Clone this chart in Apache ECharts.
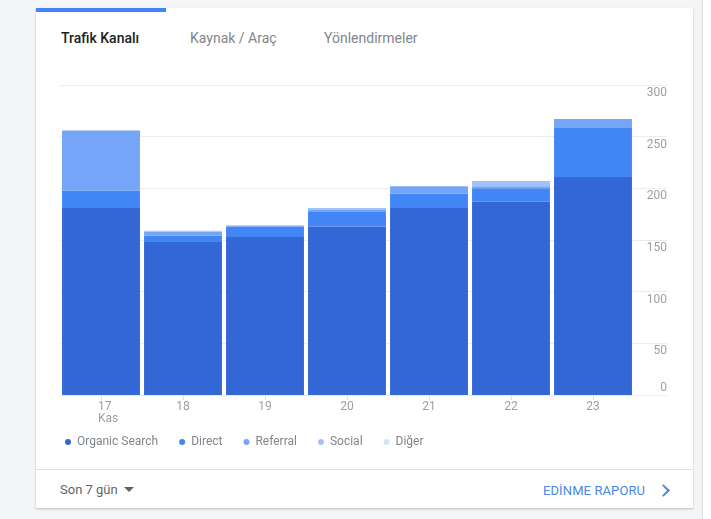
<!DOCTYPE html>
<html>
<head>
<meta charset="utf-8">
<script src="https://cdn.jsdelivr.net/npm/echarts@6/dist/echarts.min.js"></script>
<style>
    html, body { margin: 0; padding: 0; width: 711px; height: 519px; overflow: hidden; background: #f4f5f6; font-family: Roboto, 'Noto Sans', sans-serif; }
    .card { position: absolute; left: 36px; top: 8px; width: 657px; height: 500px; background: #fff; box-shadow: 0 1px 2px rgba(60,64,67,0.3); }
    .card2 { position: absolute; left: 703px; top: 0; width: 40px; height: 519px; background: #fff; box-shadow: 0 0 2px rgba(60,64,67,0.3); }
    .tab-bar { position: absolute; left: 0; top: 0; width: 130px; height: 4px; background: #4285f4; }
    .tab { position: absolute; top: 21px; font-size: 14px; line-height: 18px; color: #80868b; white-space: nowrap; }
    .tab.active { color: #202124; font-weight: 500; }
    .divider { position: absolute; left: 0; top: 461px; width: 657px; height: 1px; background: #e0e0e0; }
    .period { position: absolute; left: 24px; top: 473px; font-size: 13px; line-height: 18px; color: #5f6368; }
    .period .caret { display: inline-block; width: 0; height: 0; border-left: 5px solid transparent; border-right: 5px solid transparent; border-top: 5px solid #5f6368; margin-left: 6px; vertical-align: 2px; }
    .report { position: absolute; left: 507px; top: 474px; font-size: 13px; line-height: 18px; color: #4a86e8; letter-spacing: 0.1px; }
    .chev { position: absolute; left: 623px; top: 478px; width: 7px; height: 7px; border-right: 2px solid #4a86e8; border-bottom: 2px solid #4a86e8; transform: rotate(-45deg); }
    #chart { position: absolute; left: 0; top: 0; width: 711px; height: 519px; }
</style>
</head>
<body>
<div class="card2"></div>
<div class="card">
    <div class="tab-bar"></div>
    <div class="tab active" style="left:25px">Trafik Kanalı</div>
    <div class="tab" style="left:154px">Kaynak / Araç</div>
    <div class="tab" style="left:288px">Yönlendirmeler</div>
    <div class="divider"></div>
    <div class="period">Son 7 gün<span class="caret"></span></div>
    <div class="report">EDİNME RAPORU</div>
    <div class="chev"></div>
</div>
<div id="chart"></div>
<script>
// Günlük trafik kanalları (17-23 Kas)
const days = ['17\nKas', '18', '19', '20', '21', '22', '23'];
const organicSearch = [181, 148, 153, 163, 181, 187, 211];
const direct = [17, 6, 10, 14, 14, 13, 48];
const referral = [58, 4, 1, 2, 7, 2, 8];
const social = [0, 1, 0, 2, 0, 5, 0];
const diger = [0, 0, 0, 0, 0, 0, 0];

const seriesNames = ['Organic Search', 'Direct', 'Referral', 'Social', 'Diğer'];
const seriesData = [organicSearch, direct, referral, social, diger];
const colors = ['#3367d6', '#4285f4', '#74a5f8', '#a1c2fa', '#d2e3fc'];

const labelColor = '#9aa0a6';

const chart = echarts.init(document.getElementById('chart'));

const option = {
    animation: false,
    color: colors,
    legend: {
        left: 60,
        top: 431,
        icon: 'circle',
        itemWidth: 6,
        itemHeight: 6,
        itemGap: 21,
        textStyle: { color: '#80868b', fontSize: 12, fontFamily: 'Roboto', padding: [0, 0, 0, 1] },
        data: seriesNames
    },
    grid: [
        // çizgiler ve sağdaki etiketler
        { left: 60, right: 44, top: 85, bottom: 124 },
        // çubuklar
        { left: 60, right: 77, top: 85, bottom: 124 }
    ],
    xAxis: [
        { type: 'value', gridIndex: 0, show: false, min: 0, max: 1 },
        {
            type: 'category',
            gridIndex: 1,
            data: days,
            axisLine: { show: false },
            axisTick: { show: true, alignWithLabel: true, length: 5, lineStyle: { color: '#e0e0e0' } },
            axisLabel: {
                color: labelColor,
                fontSize: 12,
                lineHeight: 12,
                margin: 6,
                fontFamily: 'Roboto',
                // ilk etiket (ay adıyla) sola hizalı
                formatter: (v, i) => (i === 0 ? v.split('\n').map(s => '{k|' + s + '}').join('\n') : v),
                rich: {
                    k: { width: 21, align: 'left', padding: [0, 0, 0, 15], fontSize: 12, lineHeight: 12, color: labelColor, fontFamily: 'Roboto' }
                }
            }
        }
    ],
    yAxis: [
        {
            type: 'value',
            gridIndex: 0,
            position: 'right',
            min: 0,
            max: 300,
            interval: 50,
            axisLine: { show: false },
            axisTick: { show: false },
            splitLine: { lineStyle: { color: '#ececec' } },
            axisLabel: {
                inside: true,
                margin: 0,
                verticalAlign: 'top',
                padding: [2, 0, 0, 0],
                color: labelColor,
                fontSize: 12,
                fontFamily: 'Roboto',
                formatter: v => (v === 0 ? '' : String(v))
            }
        },
        {
            type: 'value',
            gridIndex: 0,
            position: 'right',
            min: 0,
            max: 300,
            interval: 50,
            axisLine: { show: false },
            axisTick: { show: false },
            splitLine: { show: false },
            axisLabel: {
                inside: true,
                margin: 0,
                verticalAlign: 'bottom',
                padding: [0, 0, 1, 0],
                color: labelColor,
                fontSize: 12,
                fontFamily: 'Roboto',
                formatter: v => (v === 0 ? '0' : '')
            }
        },
        { type: 'value', gridIndex: 1, min: 0, max: 300, show: false }
    ],
    series: seriesNames.map((name, i) => ({
        name: name,
        type: 'bar',
        stack: 'kanal',
        xAxisIndex: 1,
        yAxisIndex: 2,
        barCategoryGap: '5%',
        data: seriesData[i]
    }))
};

chart.setOption(option);
</script>
</body>
</html>
